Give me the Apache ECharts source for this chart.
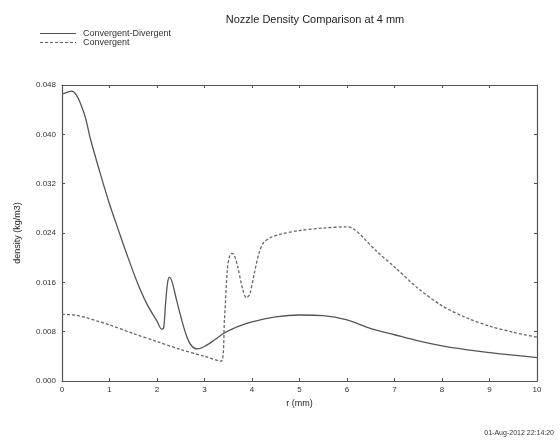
<!DOCTYPE html>
<html><head><meta charset="utf-8">
<script src="https://cdn.jsdelivr.net/npm/echarts@6/dist/echarts.min.js"></script>
<style>html,body{margin:0;padding:0;background:#fff}#c{width:560px;height:440px}</style>
</head><body><div id="c"></div>
<script>
var titleText = 'Nozzle Density Comparison at 4 mm';
var seriesNames = ['Convergent-Divergent', 'Convergent'];
var xTicks = [0,1,2,3,4,5,6,7,8,9,10];
var yTicks = [0.000,0.008,0.016,0.024,0.032,0.040,0.048];
var cdX = [0,0.1,0.2,0.3,0.4,0.5,0.6,0.8,1.0,1.2,1.4,1.6,1.8,2.0,2.1,2.14,2.18,2.22,2.26,2.32,2.4,2.5,2.6,2.7,2.84,3.0,3.2,3.4,3.6,3.8,4.0,4.5,5.0,5.5,6.0,6.5,7.0,7.5,8.0,8.5,9.0,9.5,10];
var cdY = [0.0465,0.0468,0.0470,0.0464,0.0448,0.0425,0.0392,0.0338,0.0287,0.0242,0.0198,0.0157,0.0123,0.0097,0.0084,0.0086,0.0125,0.0158,0.0168,0.0160,0.0135,0.0105,0.0078,0.0060,0.0052,0.0056,0.0066,0.0077,0.0085,0.0091,0.0096,0.0104,0.0107,0.0106,0.0099,0.0085,0.0075,0.0065,0.0057,0.0051,0.0046,0.0042,0.0038];
var cX = [0,0.25,0.5,0.75,1.0,1.5,2.0,2.5,3.0,3.35,3.42,3.48,3.52,3.57,3.62,3.7,3.8,3.88,3.95,4.05,4.15,4.25,4.4,4.6,5.0,5.5,6.0,6.15,6.35,6.6,7.0,7.5,8.0,8.5,9.0,9.5,10];
var cY = [0.0108,0.0107,0.0103,0.0097,0.0091,0.0077,0.0064,0.0051,0.0040,0.0032,0.0100,0.0180,0.0200,0.0207,0.0205,0.0185,0.0150,0.0135,0.0140,0.0175,0.0208,0.0225,0.0233,0.0238,0.0244,0.0248,0.0250,0.0246,0.0232,0.0212,0.0185,0.0150,0.0122,0.0103,0.0089,0.0079,0.0071];
function pairs(xs, ys){ return xs.map(function(x,i){return [x, ys[i]];}); }
var axisCol = '#555';
var font = 'Liberation Sans, Arial, sans-serif';
var dashIcon = 'path://M0,4h3v1h-3z M5,4h3v1h-3z M10,4h3v1h-3z M15,4h3v1h-3z M20,4h3v1h-3z M25,4h3v1h-3z M30,4h3v1h-3z M35,4h1v1h-1z';
var chart = echarts.init(document.getElementById('c'), null, {renderer:'canvas'});
chart.setOption({
  backgroundColor:'#fff',
  animation:false,
  title:{text:titleText, left:310, top:9, textAlign:'center',
    textStyle:{fontSize:11, fontWeight:'normal', color:'#222', fontFamily:font}},
  legend:{orient:'vertical', left:35, top:24, itemWidth:36, itemHeight:8, itemGap:0,
    textStyle:{fontSize:9, color:'#333', fontFamily:font, padding:[0,0,0,2]},
    data:[{name:seriesNames[0], icon:'path://M0,4L36,4L36,5L0,5Z'},{name:seriesNames[1], icon:dashIcon}]},
  grid:{left:62, right:23, top:85, bottom:59},
  xAxis:[{type:'value', min:0, max:10, interval:1, name:'r (mm)', nameLocation:'middle', nameGap:15,
    nameTextStyle:{fontSize:9, color:'#222', fontFamily:font},
    axisLine:{onZero:false, lineStyle:{color:axisCol, width:1.2}},
    axisTick:{inside:true, length:3, lineStyle:{color:axisCol}},
    axisLabel:{fontSize:8, color:'#333', fontFamily:font, margin:5},
    splitLine:{show:false}},
    {type:'value', min:0, max:10, interval:1, position:'top',
    axisLine:{show:true, onZero:false, lineStyle:{color:axisCol, width:1.2}},
    axisTick:{show:true, inside:true, length:3, lineStyle:{color:axisCol}},
    axisLabel:{show:false}, splitLine:{show:false}}],
  yAxis:[{type:'value', min:0, max:0.048, interval:0.008, name:'density (kg/m3)', nameLocation:'middle', nameGap:40,
    nameTextStyle:{fontSize:9, color:'#222', fontFamily:font},
    axisLine:{show:true, onZero:false, lineStyle:{color:axisCol, width:1.2}},
    axisTick:{show:true, inside:true, length:3, lineStyle:{color:axisCol}},
    axisLabel:{fontSize:8, color:'#333', fontFamily:font, margin:6, formatter:function(v){return v.toFixed(3);}},
    splitLine:{show:false}},
    {type:'value', min:0, max:0.048, interval:0.008, position:'right',
    axisLine:{show:true, onZero:false, lineStyle:{color:axisCol, width:1.2}},
    axisTick:{show:true, inside:true, length:3, lineStyle:{color:axisCol}},
    axisLabel:{show:false}, splitLine:{show:false}}],
  graphic:[{type:'text', right:6, bottom:3, style:{text:'01-Aug-2012 22:14:20', fontSize:7, fill:'#333', fontFamily:font}}],
  series:[
    {name:seriesNames[0], type:'line', data:pairs(cdX, cdY), showSymbol:false, symbol:'none', smooth:0.3,
      itemStyle:{color:'#555'}, lineStyle:{color:'#555', width:1.3, type:'solid'}},
    {name:seriesNames[1], type:'line', data:pairs(cX, cY), showSymbol:false, symbol:'none', smooth:0.3,
      itemStyle:{color:'#666'}, lineStyle:{color:'#666', width:1.3, type:[3,2]}}
  ]
});
</script></body></html>
